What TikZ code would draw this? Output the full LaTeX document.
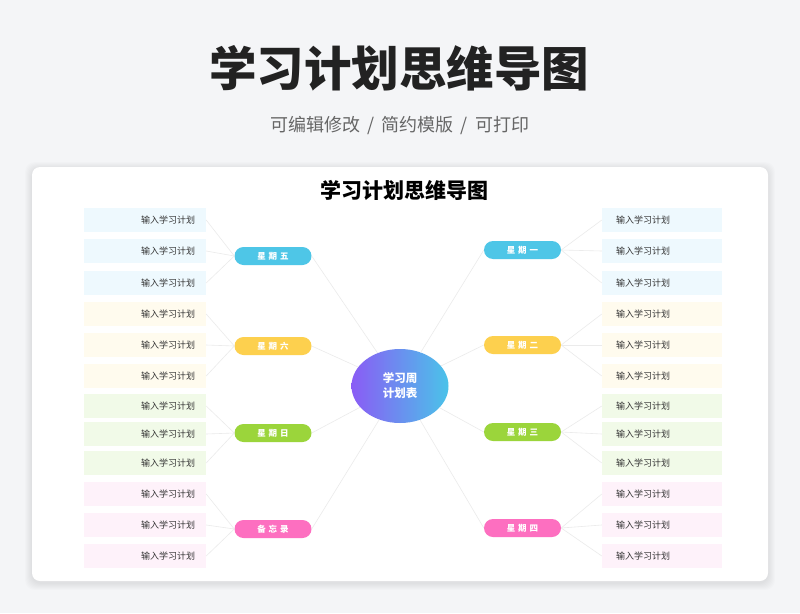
\documentclass[tikz,border=0pt]{standalone}
\usepackage{fontspec}
\setmainfont{Noto Sans CJK SC}
\usetikzlibrary{shapes.geometric}
\definecolor{bg}{HTML}{F4F5F7}
\definecolor{titlec}{HTML}{222222}
\definecolor{subc}{HTML}{666666}
\definecolor{leaftext}{HTML}{333333}
\definecolor{linkc}{HTML}{EBEBEB}
\definecolor{lblue}{HTML}{EEF9FE}
\definecolor{lyellow}{HTML}{FFFBEE}
\definecolor{lgreen}{HTML}{F1FAE8}
\definecolor{lpink}{HTML}{FEF2FA}
\definecolor{pblue}{HTML}{4EC6E7}
\definecolor{pyellow}{HTML}{FDD04E}
\definecolor{pgreen}{HTML}{9BD53B}
\definecolor{ppink}{HTML}{FD6FC0}
\definecolor{gleft}{HTML}{8A5CF5}
\definecolor{gright}{HTML}{4AC3E9}
\begin{document}
\begin{tikzpicture}[x=1pt,y=-1pt,
  bigtitle/.style={font=\fontsize{47.5}{52}\selectfont\bfseries, text=titlec, inner sep=0},
  subtitle/.style={font=\fontsize{18}{22}\selectfont, text=subc, inner sep=0},
  cardtitle/.style={font=\fontsize{21}{24}\selectfont\bfseries, text=black, inner sep=0},
  leafL/.style={rectangle, minimum height=24pt, inner xsep=11pt, inner ysep=0pt, text width=100pt, align=right, font=\fontsize{9}{11}\selectfont, text=leaftext},
  leafR/.style={rectangle, minimum height=24pt, inner xsep=14pt, inner ysep=0pt, text width=92pt, align=left, font=\fontsize{9}{11}\selectfont, text=leaftext},
  pill/.style={rectangle, rounded corners=9pt, minimum width=77pt, minimum height=18pt, inner sep=0pt, font=\fontsize{8.5}{10}\selectfont\bfseries, text=white},
  hub/.style={ellipse, minimum width=97pt, minimum height=74pt, inner sep=0pt, left color=gleft, right color=gright, align=center, font=\fontsize{11.5}{15}\selectfont\bfseries, text=white},
  link/.style={draw=linkc, line width=0.6pt}
]
\useasboundingbox (0,0) rectangle (800,613);
\fill[bg] (0,0) rectangle (800,613);
% card shadow
\foreach \k in {1,...,7}{
  \fill[black, opacity=0.010, rounded corners=10pt] (32-\k,167-\k+2) rectangle (768+\k,581+\k+2);
}
\fill[white, rounded corners=8pt] (32,167) rectangle (768,581);

\node[bigtitle] (title) at (399,68) {学习计划思维导图};
\node[subtitle] (sub) at (400,125) {可编辑修改\hspace{7pt}/\hspace{7pt}简约模版\hspace{7pt}/\hspace{7pt}可打印};
\node[cardtitle] (ctitle) at (404,190) {学习计划思维导图};

% leaves
\foreach \i/\y/\col in {1/220/lblue,2/251/lblue,3/283/lblue,
                        4/314/lyellow,5/345/lyellow,6/376/lyellow,
                        7/406/lgreen,8/434/lgreen,9/463/lgreen,
                        10/494/lpink,11/525/lpink,12/556/lpink}{
  \node[leafL, fill=\col] (L\i) at (145,\y) {输入学习计划};
  \node[leafR, fill=\col] (R\i) at (662,\y) {输入学习计划};
}

% hub
\node[hub] (hub) at (400,386) {学习周\\计划表};

% pills
\node[pill, fill=pblue]   (PL1) at (273,256) {星\hspace{3pt}期\hspace{3pt}五};
\node[pill, fill=pyellow] (PL2) at (273,346) {星\hspace{3pt}期\hspace{3pt}六};
\node[pill, fill=pgreen]  (PL3) at (273,433) {星\hspace{3pt}期\hspace{3pt}日};
\node[pill, fill=ppink]   (PL4) at (273,529) {备\hspace{3pt}忘\hspace{3pt}录};
\node[pill, fill=pblue]   (PR1) at (522.5,250) {星\hspace{3pt}期\hspace{3pt}一};
\node[pill, fill=pyellow] (PR2) at (522.5,345) {星\hspace{3pt}期\hspace{3pt}二};
\node[pill, fill=pgreen]  (PR3) at (522.5,432) {星\hspace{3pt}期\hspace{3pt}三};
\node[pill, fill=ppink]   (PR4) at (522.5,528) {星\hspace{3pt}期\hspace{3pt}四};

% connectors
\foreach \p/\a/\b/\c in {PL1/1/2/3,PL2/4/5/6,PL3/7/8/9,PL4/10/11/12}{
  \draw[link] (\p.west) -- (L\a.east);
  \draw[link] (\p.west) -- (L\b.east);
  \draw[link] (\p.west) -- (L\c.east);
  \draw[link] (hub) -- (\p.east);
}
\foreach \p/\a/\b/\c in {PR1/1/2/3,PR2/4/5/6,PR3/7/8/9,PR4/10/11/12}{
  \draw[link] (\p.east) -- (R\a.west);
  \draw[link] (\p.east) -- (R\b.west);
  \draw[link] (\p.east) -- (R\c.west);
  \draw[link] (hub) -- (\p.west);
}
\end{tikzpicture}
\end{document}
